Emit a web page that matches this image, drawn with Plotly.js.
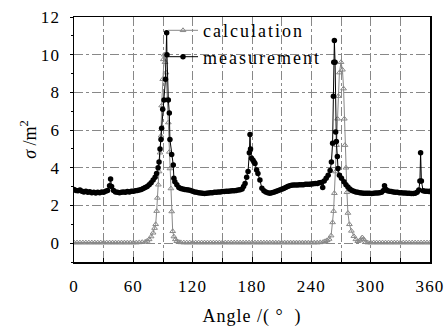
<!DOCTYPE html>
<html>
<head>
<meta charset="utf-8">
<script src="https://cdn.plot.ly/plotly-3.0.1.min.js"></script>
<style>
body{margin:0;padding:0;background:#fff;}
#chart{width:444px;height:335px;}
#chart .xtick text, #chart .ytick text{letter-spacing:1.2px;}
#chart .legendtext{letter-spacing:2px;}
#chart .legend .scrollbox{clip-path:none !important;}
#chart .g-xtitle text{letter-spacing:1px;}
</style>
</head>
<body>
<div id="chart"></div>
<script>
// Measurement (filled circles)
const angleMeas = [0,2,4,6,8,10,12,14,16,18,20,22,24,26,28,30,32,34,36,37,38,40,42,44,46,48,50,52,54,56,58,60,62,64,66,68,70,72,74,76,78,80,82,83.5,85,86,87,88,88.6,89.7,91,92.5,93.7,94,95.4,96.4,97,98.8,100.4,101,102,104,106,108,110,112,114,116,118,120,122,124,126,128,130,132,134,136,138,140,142,144,146,148,150,152,154,156,158,160,162,164,166,168,170,171.5,173,174.6,176,177.3,178,178.5,179.5,181,182,183,184.7,186,188,190,192,194,196,198,200,202,204,206,208,210,212,214,216,218,220,222,224,226,228,230,232,234,236,238,240,242,244,246,248,250,251.5,253,255,257,259,260.3,261.5,262.3,262.7,263.3,264,264.6,265.3,266.3,267,268.4,270.5,273,275,277,279,281,283,285,287,289,291,293,295,297,299,301,303,305,307,309,311,313,314,315.5,317,319,321,323,325,327,329,331,333,335,337,339,341,343,345,347,348.7,349.8,350.5,351.3,353,355,357,359,360];
const sigmaMeas = [2.85,2.8,2.78,2.82,2.75,2.72,2.75,2.7,2.73,2.68,2.7,2.66,2.7,2.68,2.72,2.7,2.75,2.8,3.05,3.4,3.0,2.8,2.72,2.7,2.68,2.7,2.72,2.7,2.74,2.72,2.76,2.75,2.78,2.8,2.82,2.85,2.9,2.95,3.0,3.1,3.2,3.35,3.5,3.7,4.0,4.3,5.0,5.5,6.1,7.1,7.6,8.7,11.16,10.0,7.6,6.9,5.5,4.7,4.15,3.45,3.26,3.1,2.95,2.9,2.88,2.85,2.84,2.82,2.8,2.76,2.72,2.7,2.68,2.66,2.65,2.64,2.65,2.66,2.68,2.68,2.7,2.7,2.72,2.72,2.74,2.74,2.75,2.76,2.77,2.78,2.78,2.8,2.82,2.84,2.88,3.0,3.17,3.5,3.8,4.8,5.77,5.0,4.5,4.4,4.3,4.23,3.88,3.7,3.35,2.91,2.78,2.72,2.68,2.65,2.68,2.7,2.74,2.78,2.82,2.86,2.9,2.95,3.0,3.05,3.07,3.08,3.08,3.09,3.1,3.1,3.1,3.12,3.12,3.13,3.14,3.15,3.16,3.17,3.2,3.22,2.95,3.3,3.45,3.6,3.85,4.3,5.3,7.8,9.6,10.75,9.6,5.9,5.4,4.6,3.96,3.6,3.44,3.26,3.1,2.98,2.88,2.8,2.75,2.72,2.7,2.68,2.66,2.65,2.65,2.65,2.65,2.64,2.65,2.66,2.66,2.68,2.7,2.8,3.05,2.85,2.78,2.76,2.74,2.72,2.7,2.7,2.68,2.68,2.66,2.66,2.65,2.65,2.64,2.64,2.65,2.7,2.82,3.3,4.8,3.3,2.78,2.75,2.76,2.74,2.75];

// Calculation (open triangles)
const angleCalc = [0,3,6,9,12,15,18,21,24,27,30,33,36,39,42,45,48,51,54,57,60,63,66,69,72,74,76,78,80,81.5,82.6,83.6,84.3,85.3,86,87,88,88.6,89.7,90.3,91.2,92,93,94.4,95.4,96.4,97,98,98.8,99.8,101,102.5,104,106,108,111,114,117,120,123,126,129,132,135,138,141,144,147,150,153,156,159,162,165,168,171,174,177,180,183,186,189,192,195,198,201,204,207,210,213,216,219,222,225,228,231,234,237,240,243,246,249,252,254,256,258,260,261.5,262.5,263.3,264.5,265.5,266.5,267.3,268.4,270,271.5,272.6,273.4,274,275,276,277,278.5,280.5,283,285,287,289,290.5,291.5,293,295,297,300,303,306,309,312,315,318,321,324,327,330,333,336,339,342,345,348,351,354,357,360];
const sigmaCalc = [0.03,0.03,0.03,0.03,0.03,0.03,0.03,0.03,0.03,0.03,0.03,0.03,0.03,0.03,0.03,0.03,0.03,0.03,0.03,0.03,0.03,0.03,0.04,0.05,0.07,0.12,0.2,0.35,0.55,0.8,1.0,1.7,2.4,3.1,3.8,4.8,5.7,7.3,8.7,9.75,10.0,9.6,9.05,7.65,6.4,4.84,3.96,2.9,1.68,0.63,0.35,0.2,0.1,0.06,0.04,0.03,0.03,0.03,0.03,0.03,0.03,0.03,0.03,0.03,0.03,0.03,0.03,0.03,0.03,0.03,0.03,0.03,0.03,0.03,0.03,0.03,0.03,0.03,0.03,0.03,0.03,0.03,0.03,0.03,0.03,0.03,0.03,0.03,0.03,0.03,0.03,0.03,0.03,0.03,0.03,0.03,0.03,0.03,0.03,0.03,0.03,0.04,0.06,0.1,0.15,0.22,0.4,1.1,1.7,2.65,3.8,5.2,6.6,7.8,9.05,9.6,9.2,8.2,6.6,5.2,4.0,2.7,1.6,1.0,0.65,0.37,0.2,0.1,0.14,0.22,0.3,0.2,0.06,0.03,0.03,0.03,0.03,0.03,0.03,0.03,0.03,0.03,0.03,0.03,0.03,0.03,0.03,0.03,0.03,0.03,0.03,0.03,0.03,0.03,0.03,0.03];

const xTickVals = [0,60,120,180,240,300,360];
const xTickText = ['0','60','120','180','240','300','360'];
const yTickVals = [0,2,4,6,8,10,12];

const serif = 'Liberation Serif, Times New Roman, serif';

const traces = [
  {
    x: angleCalc, y: sigmaCalc, name: 'calculation', type: 'scatter', mode: 'lines+markers',
    line: {color: '#888888', width: 1},
    marker: {symbol: 'triangle-up-open', size: 5, color: '#888888', line: {width: 1}}
  },
  {
    x: angleMeas, y: sigmaMeas, name: 'measurement', type: 'scatter', mode: 'lines+markers',
    line: {color: '#000000', width: 1},
    marker: {symbol: 'circle', size: 5.5, color: '#000000'}
  }
];

const layout = {
  width: 444, height: 335,
  margin: {l: 74, r: 14, t: 14, b: 73},
  paper_bgcolor: '#ffffff', plot_bgcolor: '#ffffff',
  font: {family: serif, size: 17, color: '#000'},
  showlegend: true,
  legend: {x: 0.25, y: 1.02, xanchor: 'left', yanchor: 'top', bgcolor: 'rgba(255,255,255,0)',
           font: {family: serif, size: 18, color: '#000'}, tracegroupgap: 0},
  xaxis: {
    range: [0, 360], tickmode: 'array', tickvals: xTickVals, ticktext: xTickText,
    showgrid: true, gridcolor: '#888', griddash: 'dashdot', gridwidth: 1,
    showline: true, linecolor: '#000', linewidth: 1.5, mirror: true,
    ticks: 'inside', ticklen: 5, tickcolor: '#000', ticklabelstandoff: 8,
    minor: {tickmode: 'linear', tick0: 0, dtick: 30, ticks: 'inside', ticklen: 4, tickcolor: '#000',
            showgrid: true, gridcolor: '#888', griddash: 'dashdot', gridwidth: 1},
    zeroline: false,
    title: {text: 'Angle /( °  )', font: {family: serif, size: 18}, standoff: 14}
  },
  yaxis: {
    range: [-1, 12], tickmode: 'array', tickvals: yTickVals,
    showgrid: true, gridcolor: '#888', griddash: 'dashdot', gridwidth: 1,
    showline: true, linecolor: '#000', linewidth: 1.5, mirror: true,
    ticks: 'outside', ticklen: 3, tickcolor: '#000', ticklabelstandoff: 6,
    minor: {tickmode: 'linear', tick0: 0, dtick: 1, ticks: 'outside', ticklen: 2, tickcolor: '#000', showgrid: false},
    zeroline: false,
    title: {text: '<i>σ</i> /m<sup>2</sup>', font: {family: serif, size: 18}, standoff: 2}
  }
};

Plotly.newPlot('chart', traces, layout, {displayModeBar: false, staticPlot: true});
</script>
</body>
</html>
